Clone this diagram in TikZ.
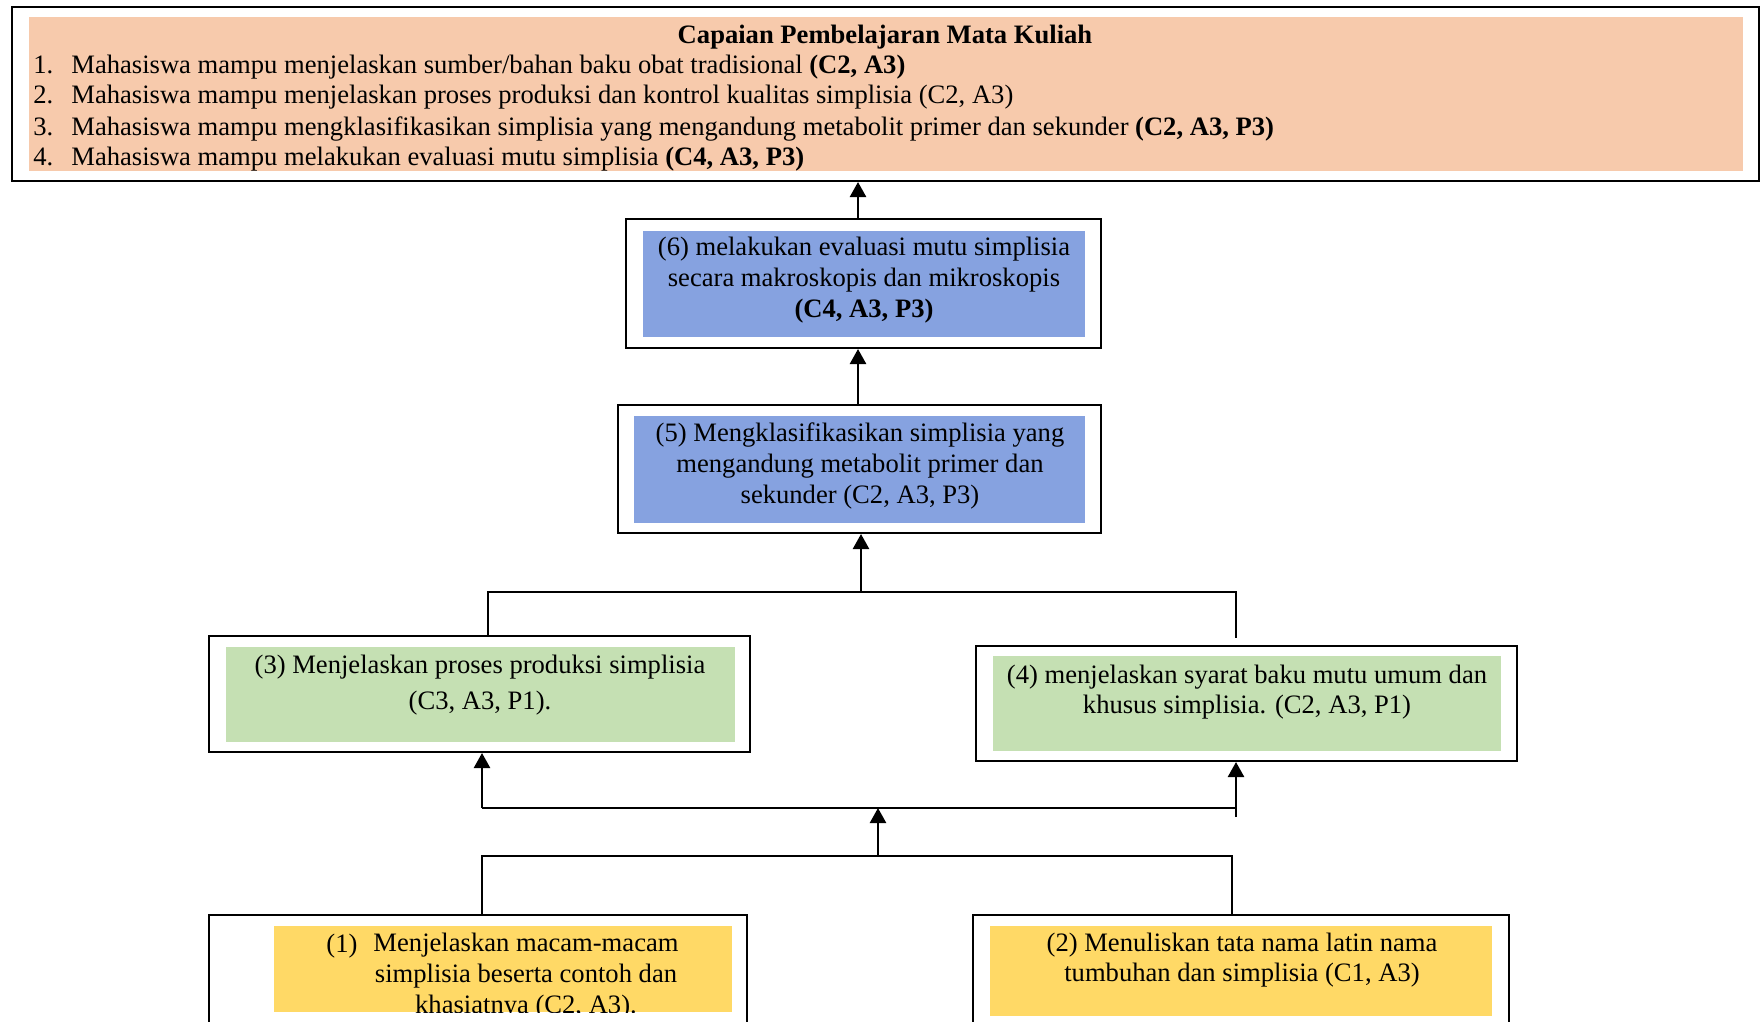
\documentclass[tikz,border=0pt]{standalone}
\usepackage{fontspec}
\setmainfont{Liberation Serif}
\usetikzlibrary{arrows.meta,fit}
\definecolor{salmon}{HTML}{F7CAAC}
\definecolor{blueb}{HTML}{86A2E0}
\definecolor{greenb}{HTML}{C5E0B3}
\definecolor{yellowb}{HTML}{FFD966}
\begin{document}
\begin{tikzpicture}[x=0.5pt,y=-0.5pt,
  outerbox/.style={draw=black,line width=1pt,inner sep=0pt},
  fillbox/.style={inner sep=0pt,draw=none},
  txt/.style={inner sep=0pt,align=center,font=\fontsize{13.3}{15.4}\selectfont},
  conn/.style={line width=1pt},
  arr/.style={line width=1.2pt,-{Triangle[width=8pt,length=7.5pt]}}]
\clip (0,0) rectangle (1762,1022);
% top box
\node[outerbox,fit={(12,7)(1759,181)}] (cpmk) {};
\node[fillbox,fill=salmon,fit={(29,17)(1743,171)}] (cpmkin) {};
\node[txt,anchor=base] (title) at (885,44) {\bfseries Capaian Pembelajaran Mata Kuliah};
\node[txt,anchor=base west] (i1) at (33,74) {\makebox[19pt][l]{1.}Mahasiswa mampu menjelaskan sumber/bahan baku obat tradisional \textbf{(C2, A3)}};
\node[txt,anchor=base west] (i2) at (33,104) {\makebox[19pt][l]{2.}Mahasiswa mampu menjelaskan proses produksi dan kontrol kualitas simplisia (C2, A3)};
\node[txt,anchor=base west] (i3) at (33,135) {\makebox[19pt][l]{3.}Mahasiswa mampu mengklasifikasikan simplisia yang mengandung metabolit primer dan sekunder \textbf{(C2, A3, P3)}};
\node[txt,anchor=base west] (i4) at (33,166) {\makebox[19pt][l]{4.}Mahasiswa mampu melakukan evaluasi mutu simplisia \textbf{(C4, A3, P3)}};
% box 6
\node[outerbox,fit={(626,219)(1101,348)}] (b6) {};
\node[fillbox,fill=blueb,fit={(643,231)(1085,337)}] (b6in) {};
\node[txt] (t6) at (864,280) {(6) melakukan evaluasi mutu simplisia\\secara makroskopis dan mikroskopis\\\textbf{(C4, A3, P3)}};
% box 5
\node[outerbox,fit={(618,405)(1101,533)}] (b5) {};
\node[fillbox,fill=blueb,fit={(634,416)(1085,523)}] (b5in) {};
\node[txt] (t5) at (860,466) {(5) Mengklasifikasikan simplisia yang\\mengandung metabolit primer dan\\sekunder (C2, A3, P3)};
% box 3
\node[outerbox,fit={(209,636)(750,752)}] (b3) {};
\node[fillbox,fill=greenb,fit={(226,647)(735,742)}] (b3in) {};
\node[txt,font=\fontsize{13.3}{18}\selectfont] (t3) at (480,685) {(3) Menjelaskan proses produksi simplisia\\(C3, A3, P1).};
% box 4
\node[outerbox,fit={(976,646)(1517,761)}] (b4) {};
\node[fillbox,fill=greenb,fit={(993,656)(1501,751)}] (b4in) {};
\node[txt] (t4) at (1247,692) {(4) menjelaskan syarat baku mutu umum dan\\khusus simplisia. (C2, A3, P1)};
% box 1
\node[outerbox,fit={(209,915)(747,1040)}] (b1) {};
\node[fillbox,fill=yellowb,fit={(274,926)(732,1012)}] (b1in) {};
\begin{scope}
\clip (274,926) rectangle (732,1012);
\node[txt,anchor=base west] (n1) at (326,952) {(1)};
\node[txt] (t1) at (526,976) {Menjelaskan macam-macam\\simplisia beserta contoh dan\\khasiatnya (C2, A3).};
\end{scope}
% box 2
\node[outerbox,fit={(973,915)(1509,1040)}] (b2) {};
\node[fillbox,fill=yellowb,fit={(990,926)(1492,1016)}] (b2in) {};
\node[txt] (t2) at (1242,960) {(2) Menuliskan tata nama latin nama\\tumbuhan dan simplisia (C1, A3)};
% connectors
\coordinate (xA) at (858,0);
\draw[arr] (b6.north -| xA) -- (cpmk.south -| xA);
\draw[arr] (b5.north -| xA) -- (b6.south -| xA);
\coordinate (j1l) at (488,592);
\coordinate (j1r) at (1236,592);
\coordinate (j1re) at (1236,638);
\draw[conn] (b3.north -| j1l) -- (j1l) -- (j1r) -- (j1re);
\coordinate (j1m) at (861,592);
\draw[arr] (j1m) -- (b5.south -| j1m);
\coordinate (j2l) at (482,808);
\coordinate (j2r) at (1236,808);
\coordinate (j2rb) at (1236,817);
\draw[conn] (j2l) -- (j2r);
\draw[arr] (j2l) -- (b3.south -| j2l);
\draw[arr] (j2rb) -- (b4.south -| j2rb);
\coordinate (j2m) at (878,808);
\coordinate (j3m) at (878,856);
\draw[arr] (j3m) -- (j2m);
\coordinate (j3l) at (482,856);
\coordinate (j3r) at (1232,856);
\draw[conn] (b1.north -| j3l) -- (j3l) -- (j3r) -- (b2.north -| j3r);
\end{tikzpicture}
\end{document}
